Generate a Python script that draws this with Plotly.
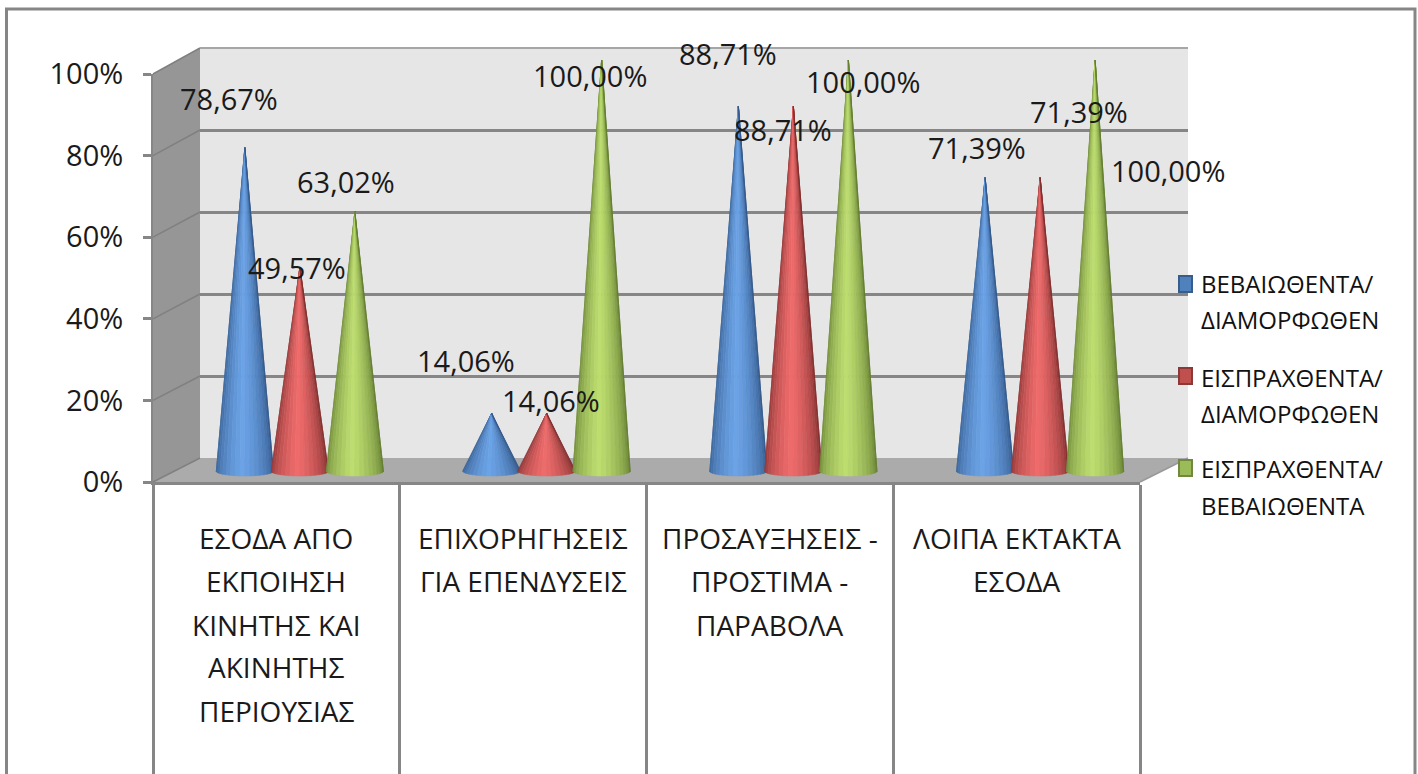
import plotly.graph_objects as go
import math

W, H = 1418, 774
categories = [
    ["ΕΣΟΔΑ ΑΠΟ", "ΕΚΠΟΙΗΣΗ", "ΚΙΝΗΤΗΣ ΚΑΙ", "ΑΚΙΝΗΤΗΣ", "ΠΕΡΙΟΥΣΙΑΣ"],
    ["ΕΠΙΧΟΡΗΓΗΣΕΙΣ", "ΓΙΑ ΕΠΕΝΔΥΣΕΙΣ"],
    ["ΠΡΟΣΑΥΞΗΣΕΙΣ -", "ΠΡΟΣΤΙΜΑ -", "ΠΑΡΑΒΟΛΑ"],
    ["ΛΟΙΠΑ ΕΚΤΑΚΤΑ", "ΕΣΟΔΑ"],
]
series_names = [
    ["ΒΕΒΑΙΩΘΕΝΤΑ/", "ΔΙΑΜΟΡΦΩΘΕΝ"],
    ["ΕΙΣΠΡΑΧΘΕΝΤΑ/", "ΔΙΑΜΟΡΦΩΘΕΝ"],
    ["ΕΙΣΠΡΑΧΘΕΝΤΑ/", "ΒΕΒΑΙΩΘΕΝΤΑ"],
]
beveothenta = [78.67, 14.06, 88.71, 71.39]
eispraxthenta = [49.57, 14.06, 88.71, 71.39]
eispr_bev = [63.02, 100.00, 100.00, 100.00]
series_values = [beveothenta, eispraxthenta, eispr_bev]

# style
FONT = "Open Sans"
GREY = "#868686"
edge_cols = [(50, 88, 138), (128, 46, 46), (98, 124, 48)]
mid_cols = [(108, 164, 232), (240, 108, 108), (190, 222, 112)]
key_fill = ["#4f81bd", "#c0504d", "#9bbb59"]
key_line = ["#385d8a", "#8c3836", "#71893f"]
# pixel offset of each value label from its cone tip (x, up)
label_off = [
    [(-16, 49), (-26, 53), (-10, 53), (-8, 30)],
    [(-3, 0), (4, 13), (-10, -23), (39, 66)],
    [(-9, 30), (-12, -16), (15, -22), (73, -111)],
]


def px(x):
    return x / W


def py(y):
    return 1 - y / H


def dom_x(a, b):
    return [px(a), px(b)]


def dom_y(top, bot):
    return [py(bot), py(top)]


fig = go.Figure()

# front plane, back plane anchor traces
fig.add_trace(go.Scatter(x=[0, 1, 2, 3], y=[0, 0, 0, 0], mode="markers", opacity=0,
                         hoverinfo="skip", showlegend=False, xaxis="x", yaxis="y"))
fig.add_trace(go.Scatter(x=[0, 1, 2, 3], y=[0, 0, 0, 0], mode="markers", opacity=0,
                         hoverinfo="skip", showlegend=False, xaxis="x2", yaxis="y2"))

# cones
cat_w = 246.75
half = 29 / cat_w
gap = 55 / cat_w
scale = 4.11
base_y = 471
lip = 5 / scale
N = 18
for s, vals in enumerate(series_values):
    for c, v in enumerate(vals):
        cx = c + (s - 1) * gap
        for i in range(N):
            t0 = -math.pi / 2 + math.pi * i / N
            t1 = -math.pi / 2 + math.pi * (i + 1) / N
            f = (i + 0.5) / N * 2 - 1
            u = min(1, abs(f + 0.05) ** 1.2)
            col = tuple(int(mid_cols[s][k] + (edge_cols[s][k] - mid_cols[s][k]) * u) for k in range(3))
            rgb = f"rgb{col}"
            fig.add_trace(go.Scatter(
                x=[cx, cx + half * math.sin(t0), cx + half * math.sin(t1), cx],
                y=[v, -lip * math.cos(t0), -lip * math.cos(t1), v],
                mode="lines", fill="toself", fillcolor=rgb,
                line=dict(color=rgb, width=0.6),
                hoverinfo="skip", showlegend=False, xaxis="x3", yaxis="y3"))

# value labels
ann = []
for s, vals in enumerate(series_values):
    for c, v in enumerate(vals):
        ox, oy = label_off[s][c]
        ann.append(dict(x=c + (s - 1) * gap, y=v, xref="x3", yref="y3",
                        text=f"{v:.2f}%".replace(".", ","), showarrow=False,
                        xanchor="center", yanchor="middle", xshift=ox, yshift=oy,
                        font=dict(family=FONT, size=29, color="#1a1a1a")))

# category labels
cat_line_y = [538, 581, 625, 667, 711]
for c, lines in enumerate(categories):
    for j, line in enumerate(lines):
        ann.append(dict(x=c, y=py(cat_line_y[j]), xref="x", yref="paper", text=line,
                        showarrow=False, xanchor="center", yanchor="middle",
                        font=dict(family=FONT, size=28, color="#1a1a1a")))

# legend
shapes = []
key_top = [275, 367, 459]
leg_y = [[283, 319], [377, 413], [468, 505]]
for s in range(3):
    shapes.append(dict(type="rect", xref="paper", yref="paper", layer="above",
                       x0=px(1179), x1=px(1192), y0=py(key_top[s] + 1), y1=py(key_top[s] + 17),
                       fillcolor=key_fill[s], line=dict(color=key_line[s], width=2)))
    for j in range(2):
        ann.append(dict(x=px(1199), y=py(leg_y[s][j]), xref="paper", yref="paper",
                        text=series_names[s][j], showarrow=False, xanchor="left", yanchor="middle",
                        font=dict(family=FONT, size=24, color="#111111")))

# walls
def poly(pts, fill):
    path = "M " + " L ".join(f"{px(x):.5f},{py(y):.5f}" for x, y in pts) + " Z"
    return dict(type="path", path=path, xref="paper", yref="paper", layer="below",
                fillcolor=fill, line=dict(width=0))


shapes.insert(0, poly([(200, 48), (1188, 48), (1188, 458), (200, 458)], "#e6e6e6"))
shapes.insert(1, poly([(153, 74), (200, 48), (200, 458), (153, 482)], "#969696"))
shapes.insert(2, poly([(153, 482), (200, 458), (1188, 458), (1140, 482)], "#ababab"))
for f in range(0, 101, 20):
    y_front = 482 - f * 4.08
    y_back = 458 - f * 4.10
    shapes.append(dict(type="line", xref="paper", yref="paper", layer="below",
                       x0=px(153), x1=px(200), y0=py(y_front), y1=py(y_back),
                       line=dict(color="#808080", width=1.5)))
shapes.append(dict(type="line", xref="paper", yref="paper", layer="below",
                   x0=px(1140), x1=px(1188), y0=py(482), y1=py(458),
                   line=dict(color="#999999", width=1.5)))
shapes.append(dict(type="line", xref="paper", yref="paper", layer="below",
                   x0=px(200), x1=px(1188), y0=py(48), y1=py(48),
                   line=dict(color="#a6a6a6", width=2)))
# outer frame
shapes.append(dict(type="rect", xref="paper", yref="paper", layer="below",
                   x0=px(6.5), x1=px(1415), y0=py(9), y1=py(800),
                   line=dict(color=GREY, width=3), fillcolor="rgba(0,0,0,0)"))

tick_pos = [-0.5, 0.5, 1.5, 2.5, 3.5]
fig.update_layout(
    width=W, height=H, margin=dict(l=0, r=0, t=0, b=0),
    paper_bgcolor="white", plot_bgcolor="rgba(0,0,0,0)", showlegend=False,
    shapes=shapes, annotations=ann,
    xaxis=dict(domain=dom_x(153, 1140), range=[-0.5, 3.5], tickvals=tick_pos, ticktext=[""] * 5,
               ticks="outside", ticklen=292, tickwidth=3, tickcolor=GREY, automargin=False,
               showline=True, linecolor=GREY, linewidth=3, showgrid=False, zeroline=False,
               anchor="y"),
    yaxis=dict(domain=dom_y(74, 482), range=[0, 100], tickvals=[0, 20, 40, 60, 80, 100],
               ticktext=["0%", "20%", "40%", "60%", "80%", "100%"],
               ticks="outside", ticklen=8, tickwidth=3, tickcolor=GREY, automargin=False,
               ticklabelstandoff=14,
               tickfont=dict(family=FONT, size=29, color="#1a1a1a"),
               showline=True, linecolor=GREY, linewidth=2, showgrid=False, zeroline=False,
               anchor="x"),
    xaxis2=dict(domain=dom_x(200, 1188), range=[-0.5, 3.5], visible=False, anchor="y2", automargin=False),
    yaxis2=dict(domain=dom_y(48, 458), range=[0, 100], tickvals=[0, 20, 40, 60, 80, 100],
                showticklabels=False, ticks="", showgrid=True, gridcolor=GREY, gridwidth=3,
                zeroline=False, showline=False, anchor="x2", automargin=False),
    xaxis3=dict(domain=dom_x(176.5, 1163.5), range=[-0.5, 3.5], visible=False, anchor="y3", automargin=False),
    yaxis3=dict(domain=dom_y(base_y - 110 * scale, base_y + 5 * scale), range=[-5, 110],
                visible=False, anchor="x3", automargin=False),
)

fig.write_html("out.html", config=dict(displayModeBar=False),
               post_script="document.body.style.margin='0';document.body.style.overflow='hidden';")
